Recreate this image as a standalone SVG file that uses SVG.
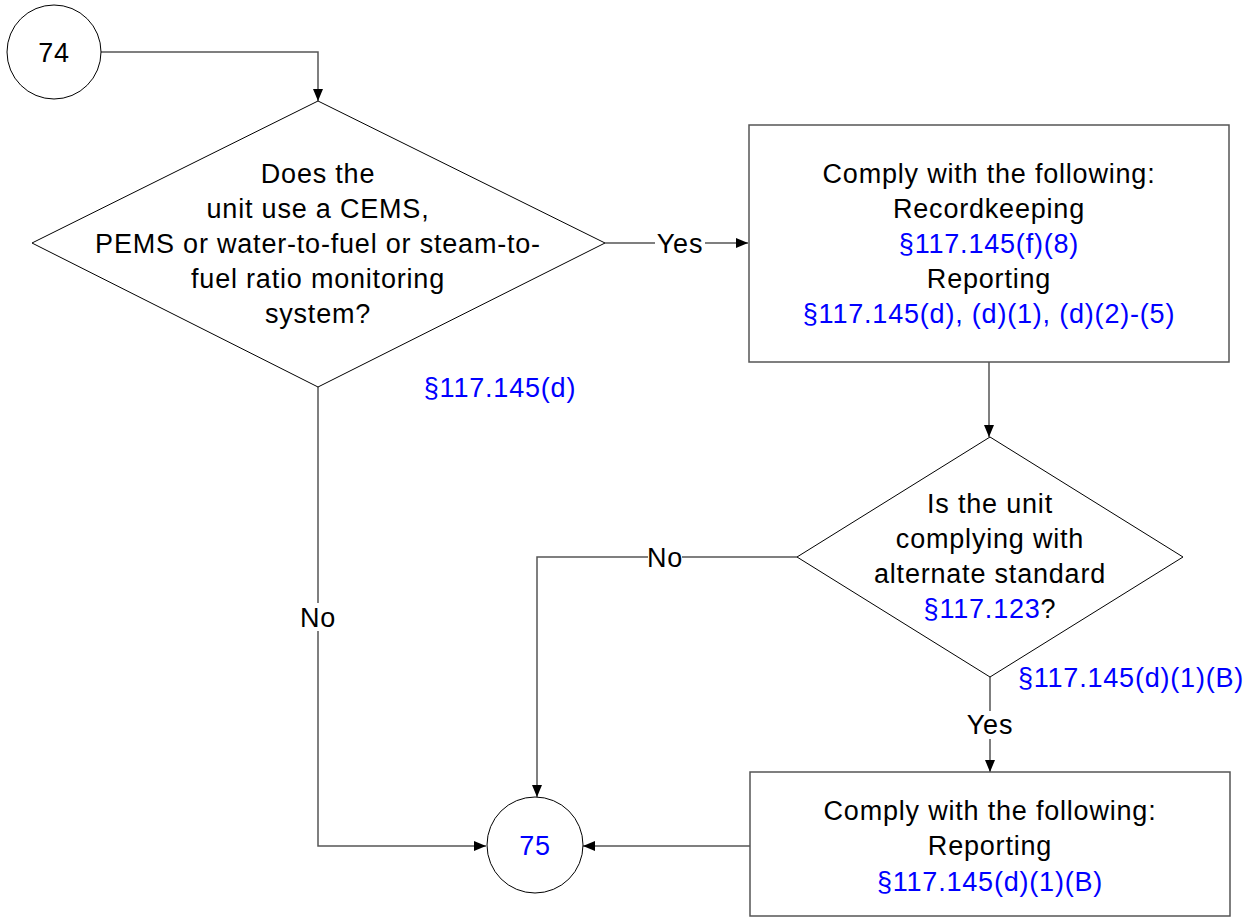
<svg xmlns="http://www.w3.org/2000/svg" width="1251" height="919" viewBox="0 0 1251 919">
<style>
text{font-family:"Liberation Sans",Arial,sans-serif;font-size:27px;letter-spacing:0.8px;fill:#000;text-anchor:middle}
.b{fill:#0000ff}
.shape{fill:#fff;stroke:#000;stroke-width:1}
.box{fill:#fff;stroke:#555;stroke-width:1.5}
.c{fill:none;stroke:#555;stroke-width:1.5}
.bg{fill:#fff}
</style>
<defs>
<marker id="ar" markerWidth="12" markerHeight="10" refX="12" refY="5" orient="auto" markerUnits="userSpaceOnUse">
<path d="M0,0 L12,5 L0,10 Z" fill="#000"/>
</marker>
</defs>
<g id="connectors">
<polyline class="c" points="101,52 318,52 318,101" marker-end="url(#ar)"/>
<polyline class="c" points="605,243 748,243" marker-end="url(#ar)"/>
<polyline class="c" points="989,362 989,437" marker-end="url(#ar)"/>
<polyline class="c" points="797,557 537,557 537,797" marker-end="url(#ar)"/>
<polyline class="c" points="318,387 318,846 486,846" marker-end="url(#ar)"/>
<polyline class="c" points="990,677 990,772" marker-end="url(#ar)"/>
<polyline class="c" points="750,846 583,846" marker-end="url(#ar)"/>
<rect class="bg" x="655" y="229" width="50" height="28"/>
<text x="680" y="253">Yes</text>
<rect class="bg" x="301" y="603" width="34" height="28"/>
<text x="318" y="627">No</text>
<rect class="bg" x="648" y="543" width="34" height="28"/>
<text x="665" y="567">No</text>
<rect class="bg" x="965" y="711" width="50" height="28"/>
<text x="990" y="734">Yes</text>
</g>
<g id="n74">
<circle class="shape" cx="54" cy="52" r="47"/>
<text x="54" y="62">74</text>
</g>
<g id="d1">
<polygon class="shape" points="318,101 605,243 318,387 32,243"/>
<text x="318" y="183">Does the</text>
<text x="318" y="218">unit use a CEMS,</text>
<text x="318" y="253">PEMS or water-to-fuel or steam-to-</text>
<text x="318" y="288">fuel ratio monitoring</text>
<text x="318" y="323">system?</text>
<text class="b" x="500" y="397">§117.145(d)</text>
</g>
<g id="r1">
<rect class="box" x="749" y="125" width="480" height="237"/>
<text x="989" y="183">Comply with the following:</text>
<text x="989" y="218">Recordkeeping</text>
<text class="b" x="989" y="253">§117.145(f)(8)</text>
<text x="989" y="288">Reporting</text>
<text class="b" x="989" y="323">§117.145(d), (d)(1), (d)(2)-(5)</text>
</g>
<g id="d2">
<polygon class="shape" points="990,437 1183,557 990,677 797,557"/>
<text x="990" y="513">Is the unit</text>
<text x="990" y="548">complying with</text>
<text x="990" y="583">alternate standard</text>
<text x="990" y="618"><tspan class="b">§117.123</tspan>?</text>
<text class="b" x="1131" y="687">§117.145(d)(1)(B)</text>
</g>
<g id="r2">
<rect class="box" x="750" y="772" width="480" height="144"/>
<text x="990" y="820">Comply with the following:</text>
<text x="990" y="855">Reporting</text>
<text class="b" x="990" y="891">§117.145(d)(1)(B)</text>
</g>
<g id="n75">
<circle class="shape" cx="535" cy="845" r="48"/>
<text class="b" x="535" y="855">75</text>
</g>
</svg>
